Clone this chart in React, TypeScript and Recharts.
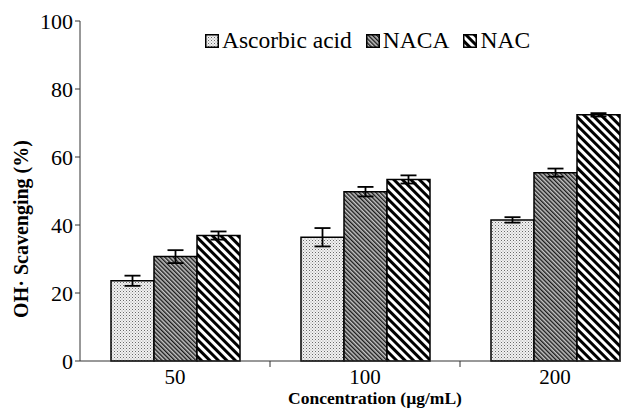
import { BarChart, Bar, XAxis, YAxis, ErrorBar, Label } from "recharts";

const categories = ["50", "100", "200"];
const ascorbic = [23.6, 36.4, 41.5];
const ascorbicErr = [1.5, 2.7, 0.8];
const naca = [30.7, 49.8, 55.4];
const nacaErr = [1.9, 1.4, 1.2];
const nac = [36.9, 53.4, 72.4];
const nacErr = [1.2, 1.2, 0.5];
const yTicks = [0, 20, 40, 60, 80, 100];
const legendItems = [
  { name: "Ascorbic acid", fill: "url(#lg-dots)" },
  { name: "NACA", fill: "url(#lg-naca)" },
  { name: "NAC", fill: "url(#lg-nac)" },
];

const data = categories.map((c, i) => ({
  conc: c,
  ascorbic: ascorbic[i],
  ascorbicErr: ascorbicErr[i],
  naca: naca[i],
  nacaErr: nacaErr[i],
  nac: nac[i],
  nacErr: nacErr[i],
}));

const FONT = "'Liberation Serif', 'Times New Roman', serif";
const TICK_SIZE = 6;
const TICK_MARGIN = 2;

function Patterns({ prefix }: { prefix: string }) {
  return (
    <defs>
      <pattern id={`${prefix}-dots`} width="3" height="3" patternUnits="userSpaceOnUse">
        <rect width="3" height="3" fill="#f2f2f2" />
        <rect x="0" y="0" width="1" height="1" fill="#6a6a6a" />
        <rect x="1.5" y="1.5" width="1" height="1" fill="#9a9a9a" />
      </pattern>
      <pattern id={`${prefix}-naca`} width="3" height="3" patternUnits="userSpaceOnUse" patternTransform="rotate(-45)">
        <rect width="3" height="3" fill="#c4c4c4" />
        <rect x="0" y="0" width="1.4" height="3" fill="#1a1a1a" />
      </pattern>
      <pattern id={`${prefix}-nac`} width="6" height="6" patternUnits="userSpaceOnUse" patternTransform="rotate(-45)">
        <rect width="6" height="6" fill="#ffffff" />
        <rect x="0" y="0" width="3" height="6" fill="#000000" />
      </pattern>
    </defs>
  );
}

// category label, plus a tick mark on the boundary to the next category
function CatTick(props: any) {
  const { x, y, payload, index, visibleTicksCount } = props;
  const half = payload.offset ?? 0;
  const axisY = y - TICK_SIZE - TICK_MARGIN;
  return (
    <g>
      <text x={x} y={y} dy="0.71em" textAnchor="middle" fontFamily={FONT} fontSize={21} fill="#000">
        {payload.value}
      </text>
      {index < visibleTicksCount - 1 && (
        <line x1={x + half} x2={x + half} y1={axisY} y2={axisY + TICK_SIZE} stroke="#333" />
      )}
    </g>
  );
}

function ChartLegend() {
  return (
    <div style={{ position: "absolute", left: 205, top: 29, display: "flex", alignItems: "center", fontFamily: FONT, fontSize: 23.5, lineHeight: 1, color: "#000" }}>
      {legendItems.map((it) => (
        <div key={it.name} style={{ display: "flex", alignItems: "center", marginRight: 14 }}>
          <svg width={14} height={14} style={{ marginRight: 3 }}>
            <Patterns prefix="lg" />
            <rect x={0.75} y={0.75} width={12.5} height={12.5} fill={it.fill} stroke="#000" strokeWidth={1.5} />
          </svg>
          <span>{it.name}</span>
        </div>
      ))}
    </div>
  );
}

export default function App() {
  return (
    <div style={{ position: "absolute", left: 0, top: 0, width: 621, height: 408, overflow: "hidden", background: "#fff" }}>
      <BarChart
        width={660}
        height={408}
        data={data}
        margin={{ top: 21, right: 10, left: 0, bottom: 0 }}
        barCategoryGap={31}
        barGap={0}
      >
        <Patterns prefix="ch" />
        <XAxis
          dataKey="conc"
          height={47}
          tickLine={false}
          tickSize={TICK_SIZE}
          tickMargin={TICK_MARGIN}
          axisLine={{ stroke: "#333" }}
          tick={CatTick}
        >
          <Label
            content={({ viewBox }: any) => (
              <text
                x={viewBox.x + viewBox.width / 2 + 10}
                y={viewBox.y + 43}
                textAnchor="middle"
                fontFamily={FONT}
                fontSize={17.5}
                fontWeight="bold"
                fill="#000"
              >
                Concentration (µg/mL)
              </text>
            )}
          />
        </XAxis>
        <YAxis
          width={80}
          domain={[0, 100]}
          ticks={yTicks}
          tickSize={5}
          tickMargin={2}
          axisLine={{ stroke: "#333" }}
          tickLine={{ stroke: "#333" }}
          tick={{ fill: "#000", fontSize: 22, fontFamily: FONT }}
        >
          <Label
            content={({ viewBox }: any) => (
              <text
                x={0}
                y={0}
                transform={`translate(${viewBox.x + 28}, ${viewBox.y + viewBox.height / 2 + 38}) rotate(-90)`}
                textAnchor="middle"
                fontFamily={FONT}
                fontSize={20}
                fontWeight="bold"
                fill="#000"
              >
                OH· Scavenging (%)
              </text>
            )}
          />
        </YAxis>
        <Bar dataKey="ascorbic" fill="url(#ch-dots)" stroke="#000" strokeWidth={1.5} isAnimationActive={false}>
          <ErrorBar dataKey="ascorbicErr" width={8} stroke="#000" strokeWidth={1.8} />
        </Bar>
        <Bar dataKey="naca" fill="url(#ch-naca)" stroke="#000" strokeWidth={1.5} isAnimationActive={false}>
          <ErrorBar dataKey="nacaErr" width={8} stroke="#000" strokeWidth={1.8} />
        </Bar>
        <Bar dataKey="nac" fill="url(#ch-nac)" stroke="#000" strokeWidth={1.5} isAnimationActive={false}>
          <ErrorBar dataKey="nacErr" width={8} stroke="#000" strokeWidth={1.8} />
        </Bar>
      </BarChart>
      <ChartLegend />
    </div>
  );
}
